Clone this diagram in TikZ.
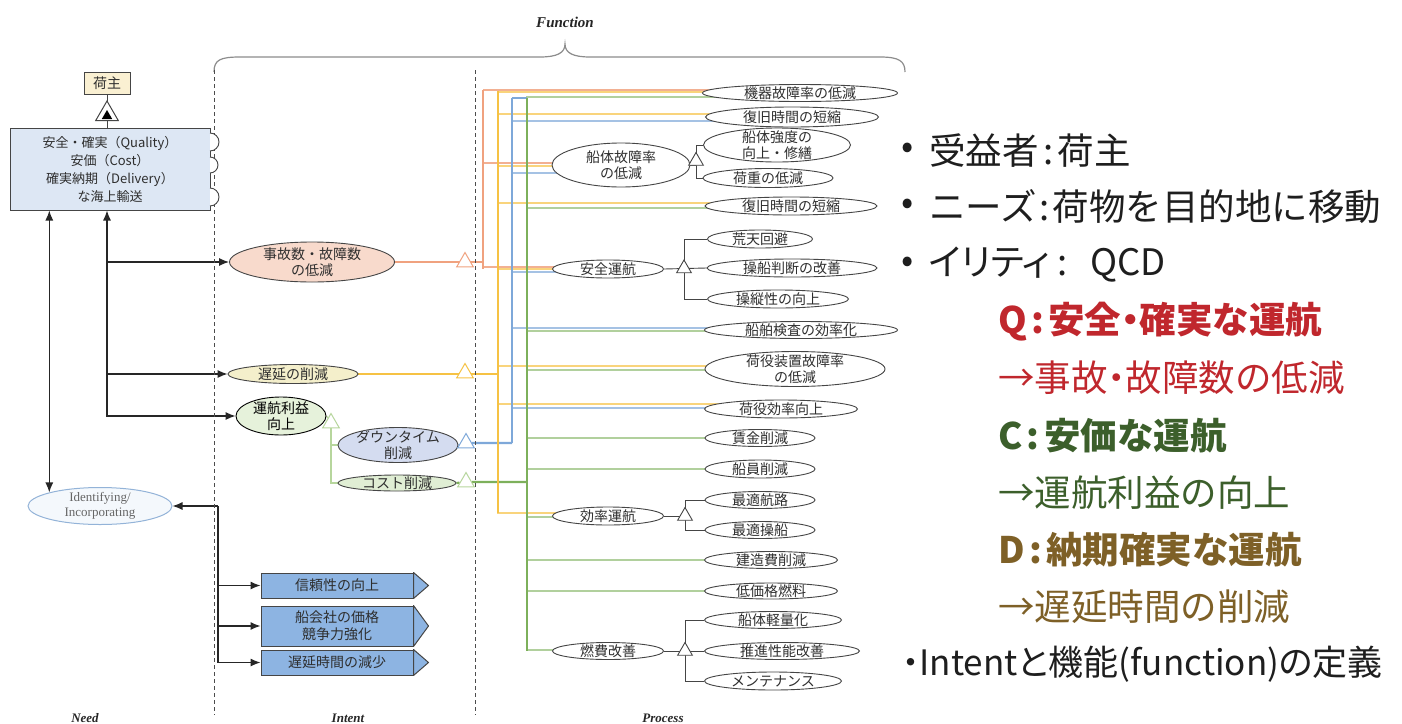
\documentclass[tikz,border=0pt]{standalone}
\usepackage{fontspec}
\setmainfont{Liberation Serif}
\newfontfamily\jp{Noto Sans CJK JP}
\newfontfamily\jpp[RawFeature=+palt]{Noto Sans CJK JP}
\usetikzlibrary{shapes.geometric,arrows.meta,calc,backgrounds}
\definecolor{dg}{HTML}{454545}
\definecolor{txt}{HTML}{2E2E2E}
\definecolor{pkL}{HTML}{F0A27F}
\definecolor{ylL}{HTML}{F6C244}
\definecolor{blL}{HTML}{7EA8D9}
\definecolor{grL}{HTML}{7DB05B}
\definecolor{grP}{HTML}{B7D69D}
\definecolor{boxblue}{HTML}{DDE7F4}
\definecolor{nushiF}{HTML}{FAF0D2}
\definecolor{jikoF}{HTML}{F8DACC}
\definecolor{chienF}{HTML}{F4EFCB}
\definecolor{riekiF}{HTML}{E6F2DB}
\definecolor{downF}{HTML}{D4DCF0}
\definecolor{costF}{HTML}{E0EED4}
\definecolor{arrbox}{HTML}{8DB4E2}
\definecolor{identD}{HTML}{93B3D8}
\definecolor{identF}{HTML}{F4F8FC}
\definecolor{qred}{HTML}{C0272D}
\definecolor{cgreen}{HTML}{3C5F2B}
\definecolor{dbrown}{HTML}{7E6027}
\definecolor{rtxt}{HTML}{1E1E1E}
\newcommand\ellnode[7]{\node[pe,#2,minimum width=#5pt,minimum height=#6pt] (#1) at (#3,#4) {};\node[tx] at (#1) {#7};}
\begin{document}
\begin{tikzpicture}[x=1pt,y=-1pt,
  pe/.style={ellipse, draw=dg, fill=white, line width=0.9pt, inner sep=0pt},
  tx/.style={font=\jp\fontsize{14}{16.5}\selectfont, text=txt, align=center, inner sep=0pt},
  tri/.style={regular polygon, regular polygon sides=3, draw=#1, fill=white, line width=1pt, inner sep=0pt, minimum size=19pt},
  ptri/.style={regular polygon, regular polygon sides=3, draw=dg, fill=white, line width=0.9pt, inner sep=0pt, minimum size=17pt},
  blk/.style={draw=dg, line width=0.9pt},
  blkA/.style={draw=black!85, line width=1.2pt},
  arr/.style={blkA, -{Latex[length=10pt,width=8pt]}},
  dblarr/.style={blkA, {Latex[length=10pt,width=8pt]}-{Latex[length=10pt,width=8pt]}},
  abox/.style={rectangle, draw=dg, fill=arrbox, line width=1pt, font=\jp\fontsize{14}{17}\selectfont, text=txt, align=center, inner sep=0pt},
  aboxS/.style={draw=dg, fill=arrbox, line width=1pt, line join=round},
  pkB/.style={draw=pkL, line width=2pt},
  ylB/.style={draw=ylL, line width=2.4pt},
  blB/.style={draw=blL, line width=2.4pt},
  grB/.style={draw=grL, line width=2.2pt},
  pkH/.style={draw=pkL!85, line width=1.6pt},
  ylH/.style={draw=ylL!70, line width=1.6pt},
  blH/.style={draw=blL!70, line width=1.6pt},
  grH/.style={draw=grL!60, line width=1.6pt},
  gR/.style={draw=grP, line width=1.3pt},
  sep/.style={draw=black!70, line width=1pt, dash pattern=on 4pt off 3pt},
  lab/.style={font=\bfseries\itshape\fontsize{13}{15}\selectfont, text=black!85},
  rt/.style={anchor=west, inner sep=0pt, font=\jp\fontsize{36.5}{40}\selectfont},
  rtb/.style={rt, font=\jp\bfseries\fontsize{36.5}{40}\selectfont},
  bul/.style={font=\jp\fontsize{36}{40}\selectfont, text=rtxt, inner sep=0pt}
]
\useasboundingbox (0,0) rectangle (1402,723);

% ---------- frame: brace, separators, labels
\node[lab, font=\bfseries\itshape\fontsize{15}{17}\selectfont] (fn) at (565,22) {Function};
\draw[draw=black!45, line width=1.2pt] (214,72) .. controls (214,60) and (220,57) .. (240,57) -- (540,57)
  .. controls (557,57) and (565,53) .. (565,44) .. controls (565,53) and (573,57) .. (590,57) -- (880,57)
  .. controls (899,57) and (905,61) .. (905,72);
\draw[sep] (214,70) -- (214,715);
\draw[sep] (475,70) -- (475,715);
\node[lab] (lneed) at (85,718) {Need};
\node[lab] (lint) at (348,718) {Intent};
\node[lab] (lproc) at (663,718) {Process};

% ---------- need side
\node[rectangle, draw=dg, fill=nushiF, line width=1pt, minimum width=46pt, minimum height=22pt, inner sep=0pt,
      font=\jp\fontsize{14}{15}\selectfont, text=txt] (nushi) at (107,83) {荷主};
\node[rectangle, draw=dg, fill=boxblue, line width=1pt, minimum width=200pt, minimum height=82pt, inner sep=0pt,
      font=\jp\fontsize{13}{18}\selectfont, text=txt, align=center] (need) at (110,169)
      {安全・確実（Quality）\\安価（Cost）\\確実納期（Delivery）\\な海上輸送};
\foreach \yc/\r in {142/9,165/8,197/9}{
  \draw[dg, fill=white, line width=0.9pt] (210,\yc+\r) arc (90:-90:\r);
}
\node[regular polygon, regular polygon sides=3, draw=dg, fill=white, line width=1pt, inner sep=0pt, minimum size=26pt] (tNu) at (107,114) {};
\node[regular polygon, regular polygon sides=3, fill=black, inner sep=0pt, minimum size=12pt] (tNuIn) at (107,116) {};

\node[ellipse, draw=identD, fill=identF, line width=1pt, minimum width=144pt, minimum height=37pt, inner sep=0pt] (ident) at (100,506) {};
\node[font=\fontsize{13}{15}\selectfont, text=black!60, align=center, inner sep=0pt] at (ident) {Identifying/\\Incorporating};

% ---------- intent side
\ellnode{jiko}{fill=jikoF}{312}{262}{165}{40}{事故数・故障数\\の低減}
\ellnode{chien}{fill=chienF}{293}{374}{130}{19}{遅延の削減}
\node[pe, draw=black, fill=riekiF, minimum width=90pt, minimum height=38pt] (rieki) at (281,416) {};
\node[tx, text=black] at (rieki) {運航利益\\向上};
\ellnode{down}{fill=downF}{398}{445}{120}{35}{ダウンタイム\\削減}
\ellnode{cost}{fill=costF}{397}{483}{118}{16}{コスト削減}

\node[abox, minimum width=152pt, minimum height=25pt] (b1) at (337,585.5) {信頼性の向上};
\node[abox, minimum width=152pt, minimum height=40pt] (b2) at (337,626) {船会社の価格\\競争力強化};
\node[abox, minimum width=152pt, minimum height=25pt] (b3) at (337,662.5) {遅延時間の減少};
\foreach \b in {b1,b2,b3}{
  \draw[aboxS] (\b.north east) -- ($(\b.east)+(15,0)$) -- (\b.south east) -- cycle;
}

\node[tri=pkL] (tJ) at (465,262) {};
\node[tri=ylL] (tC) at (465,373) {};
\node[tri=blL] (tD) at (466,443) {};
\node[tri=grP] (tCo) at (466,482) {};
\node[tri=grP] (tR) at (331,423) {};

% ---------- process side
\ellnode{sentai}{}{621}{165}{138}{44}{船体故障率\\の低減}
\ellnode{anzen}{}{608}{269}{111}{18}{安全運航}
\ellnode{kouri}{}{608}{516}{111}{18}{効率運航}
\ellnode{nenpi}{}{608}{651}{111}{17}{燃費改善}

\ellnode{c1}{}{800}{93}{195}{17}{機器故障率の低減}
\ellnode{c2}{}{792}{117}{173}{20}{復旧時間の短縮}
\ellnode{c3}{}{777}{145}{147}{34}{船体強度の\\向上・修繕}
\ellnode{c4}{}{768}{178}{130}{19}{荷重の低減}
\ellnode{c5}{}{791}{206}{172}{18}{復旧時間の短縮}
\ellnode{c6}{}{760}{239}{105}{18}{荒天回避}
\ellnode{c7}{}{792}{268}{170}{18}{操船判断の改善}
\ellnode{c8}{}{778}{299}{141}{18}{操縦性の向上}
\ellnode{c9}{}{801}{330}{193}{17}{船舶検査の効率化}
\ellnode{c10}{}{795}{369}{180}{35}{荷役装置故障率\\の低減}
\ellnode{c11}{}{781}{409}{153}{18}{荷役効率向上}
\ellnode{c12}{}{760}{438}{110}{17}{賃金削減}
\ellnode{c13}{}{760}{469}{110}{18}{船員削減}
\ellnode{c14}{}{760}{500}{110}{17}{最適航路}
\ellnode{c15}{}{760}{530}{110}{17}{最適操船}
\ellnode{c16}{}{771}{560}{133}{17}{建造費削減}
\ellnode{c17}{}{771}{591}{133}{16}{低価格燃料}
\ellnode{c18}{}{773}{620}{137}{17}{船体軽量化}
\ellnode{c19}{}{782}{651}{155}{17}{推進性能改善}
\ellnode{c20}{}{773}{681}{137}{18}{メンテナンス}

\node[ptri] (tS) at (696,161) {};
\node[ptri] (tA) at (684,268.5) {};
\node[ptri] (tK) at (685,516) {};
\node[ptri] (tN) at (685,651) {};

\coordinate (Pb) at (483,90);
\coordinate (Yb) at (498,91);
\coordinate (Bb) at (512,98);
\coordinate (Gb) at (527,98);
\coordinate (iX) at (218,0);
\coordinate (iTop) at (ident.east -| iX);

% ---------- connectors (behind nodes)
\begin{scope}[on background layer]
  \fill[white] (0,0) rectangle (1402,723);
  % need side
  \draw[blk] (nushi.south) -- (need.north -| nushi.south);
  \draw[dblarr] (need.south -| ident.165) -- (ident.165);
  \draw[dblarr] (need.south -| nushi.south) -- (nushi.south |- rieki.west) -- (rieki.west);
  \draw[arr] (nushi.south |- jiko.west) -- (jiko.west);
  \draw[arr] (nushi.south |- chien.west) -- (chien.west);
  \draw[arr] (iTop) -- (ident.east);
  \draw[blkA] (iTop) -- (iTop |- b3.west);
  \draw[arr] (iTop |- b1.west) -- (b1.west);
  \draw[arr] (iTop |- b2.west) -- (b2.west);
  \draw[arr] (iTop |- b3.west) -- (b3.west);
  % intent green sub-tree
  \draw[gR] (rieki.east) -- (tR);
  \draw[gR] (tR) -- (tR |- cost.west) -- (cost.west);
  \draw[gR] (tR |- down.west) -- (down.west);
  % horizontals to process ellipses
  \draw[pkH] ([yshift=3pt]c1.center) -| (Pb);
  \draw[pkH] ([yshift=2pt]sentai.center) -| (Pb);
  \draw[pkH] ([yshift=2pt]anzen.center) -| (Pb);
  \draw[ylH] ([yshift=1pt]c1.center) -| (Yb);
  \draw[ylH] ([yshift=3pt]c2.center) -| (Yb);
  \draw[ylH] ([yshift=-1pt]sentai.center) -| (Yb);
  \draw[ylH] ([yshift=3pt]c5.center) -| (Yb);
  \draw[ylH] (anzen.center) -| (Yb);
  \draw[ylH] ([yshift=3pt]c10.center) -| (Yb);
  \draw[ylH] ([yshift=5pt]c11.center) -| (Yb);
  \draw[ylH] ([yshift=3pt]kouri.center) -| (Yb);
  \draw[blH] ([yshift=-4pt]c2.center) -| (Bb);
  \draw[blH] ([yshift=-8pt]sentai.center) -| (Bb);
  \draw[blH] ([yshift=-3pt]anzen.center) -| (Bb);
  \draw[blH] ([yshift=2pt]c9.center) -| (Bb);
  \draw[blH] ([yshift=1pt]c11.center) -| (Bb);
  \draw[grH] ([yshift=-4pt]c1.center) -| (Gb);
  \draw[grH] ([yshift=-2pt]c5.center) -| (Gb);
  \draw[grH] ([yshift=-1pt]c9.center) -| (Gb);
  \draw[grH] ([yshift=-1pt]c10.center) -| (Gb);
  \draw[grH] (c12.center) -| (Gb);
  \draw[grH] (c13.center) -| (Gb);
  \draw[grH] ([yshift=-1pt]kouri.center) -| (Gb);
  \draw[grH] (c16.center) -| (Gb);
  \draw[grH] (c17.center) -| (Gb);
  \draw[grH] ([yshift=1pt]nenpi.center) -| (Gb);
  % inputs from intent
  \draw[draw=pkL, line width=1.3pt] (jiko.east) -- (jiko.east -| Pb);
  \draw[ylB] (chien.east) -- (chien.east -| Yb);
  \draw[blB] (down.east) -- (tD) -- (tD -| Bb);
  \draw[grB] (cost.east) -- (tCo) -- (tCo -| Gb);
  % buses
  \draw[pkB] (Pb) -- (Pb |- anzen.center);
  \draw[ylB] (Yb) -- ([yshift=3pt]Yb |- kouri.center);
  \draw[blB] (Bb) -- (Bb |- tD);
  \draw[blB] (Bb) -- (Gb);
  \draw[grB] (Gb) -- (Gb |- nenpi.center);
  % process sub-trees
  \draw[blk] (sentai.east) -- (sentai.east -| tS);
  \draw[blk] (tS |- c3.west) -- (tS |- c4.west);
  \draw[blk] (tS |- c3.west) -- (c3.west);
  \draw[blk] (tS |- c4.west) -- (c4.west);
  \draw[blk] (anzen.east) -- (c7.west);
  \draw[blk] (tA |- c6.west) -- (tA |- c8.west);
  \draw[blk] (tA |- c6.west) -- (c6.west);
  \draw[blk] (tA |- c8.west) -- (c8.west);
  \draw[blk] (kouri.east) -- (tK);
  \draw[blk] (tK |- c14.west) -- (tK |- c15.west);
  \draw[blk] (tK |- c14.west) -- (c14.west);
  \draw[blk] (tK |- c15.west) -- (c15.west);
  \draw[blk] (nenpi.east) -- (c19.west);
  \draw[blk] (tN |- c18.west) -- (tN |- c20.west);
  \draw[blk] (tN |- c18.west) -- (c18.west);
  \draw[blk] (tN |- c20.west) -- (c20.west);
\end{scope}

% ---------- right text
\node[bul] (bu1) at (908,151) {•};
\node[bul] (bu2) at (908,207) {•};
\node[bul] (bu3) at (908,265) {•};
\node[rt, text=rtxt] (r1) at (929,151) {受益者\hspace{0.12em}:\hspace{0.12em}荷主};
\node[rt, text=rtxt] (r2) at (929,207) {ニーズ\hspace{0.08em}:\hspace{0.08em}荷物を目的地に移動};
\node[rt, text=rtxt] (r3) at (929,265) {\makebox[161pt][l]{\jpp イリティ\hspace{0.2em}:}QCD};
\node[rtb, text=qred] (r4) at (998,322) {Q\hspace{0.12em}:\hspace{0.12em}安全{\jpp ・}確実な運航};
\node[rt, text=qred] (r5) at (998,378) {→事故{\jpp ・}故障数の低減};
\node[rtb, text=cgreen] (r6) at (998,436) {C\hspace{0.12em}:\hspace{0.12em}安価な運航};
\node[rt, text=cgreen] (r7) at (998,493) {→運航利益の向上};
\node[rtb, text=dbrown] (r8) at (998,550) {D\hspace{0.12em}:\hspace{0.12em}納期確実な運航};
\node[rt, text=dbrown] (r9) at (998,607) {→遅延時間の削減};
\node[rt, text=rtxt, font=\jpp\fontsize{35}{40}\selectfont] (r10) at (902,664) {・Intentと機能(function)の定義};
\end{tikzpicture}
\end{document}
